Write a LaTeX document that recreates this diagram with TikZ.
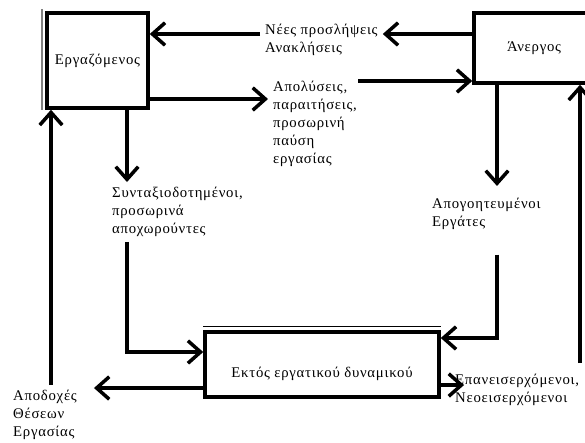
\documentclass[tikz,border=0pt]{standalone}
\usepackage{fontspec}
\setmainfont{Liberation Serif}[LetterSpace=5.0]
\usepackage{tikz}
\usetikzlibrary{arrows.meta}

\begin{document}
\begin{tikzpicture}[x=0.025cm, y=-0.025cm, font=\fontsize{10.5}{12.8}\selectfont,
    state/.style={draw, line width=2.5pt, inner sep=0pt},
    lbl/.style={align=left, anchor=north west, inner sep=3.5pt},
    arr/.style={line width=2.5pt, -{Straight Barb[length=9pt, width=16pt]}}]
  \useasboundingbox (0,0) rectangle (585,442);

  \node[state, minimum width=2.525cm, minimum height=2.375cm]  (E) at ( 97.5,  60.5) {Εργαζόμενος};
  \node[state, minimum width=3cm,     minimum height=1.75cm]   (A) at (534,    48)   {Άνεργος};
  \node[state, minimum width=5.85cm,  minimum height=1.625cm,
        text height=20pt, text depth=2pt]                      (X) at (322,   364.5) {Εκτός εργατικού δυναμικού};

  \node[lbl] (hires)   at (260,  19) {Νέες προσλήψεις\\Ανακλήσεις};
  \node[lbl] (dism)    at (268,  76) {Απολύσεις,\\παραιτήσεις,\\προσωρινή\\παύση\\εργασίας};
  \node[lbl] (retired) at (107, 182) {Συνταξιοδοτημένοι,\\προσωρινά\\αποχωρούντες};
  \node[lbl] (disc)    at (427, 193) {Απογοητευμένοι\\Εργάτες};
  \node[lbl] (accept)  at (  8, 385) {Αποδοχές\\Θέσεων\\Εργασίας};
  \node[lbl] (reent)   at (450, 369) {Επανεισερχόμενοι,\\Νεοεισερχόμενοι};

  \coordinate (xr)    at (127,   0);
  \coordinate (xa)    at ( 51,   0);
  \coordinate (xd)    at (497,   0);
  \coordinate (dismR) at (358,  81);
  \coordinate (up)    at (580, 363);

  \draw[gray, line width=1.5pt] ([shift={(-3,0)}]E.south west) -- ([shift={(-3,-2)}]E.north west);
  \draw[line width=0.6pt] ([shift={(0,-3.5)}]X.north west) -- ([shift={(0,-3.5)}]X.north east);

  \draw[arr] (A.west |- 0,34) -- (hires.east |- 0,34);
  \draw[arr] (hires.west |- 0,34) -- (E.east |- 0,34);

  \draw[arr] (E.east |- 0,99) -- (dism.west |- 0,99);
  \draw[arr] (dismR) -- (A.west |- dismR);

  \draw[arr] (E.south -| xr) -- (retired.north -| xr);
  \draw[arr] (retired.south -| xr) |- (X.west |- 0,352);

  \draw[arr] (accept.north -| xa) -- (E.south -| xa);
  \draw[arr, shorten >=8.5pt] (X.west |- 0,388) -- (accept.east |- 0,388);

  \draw[arr, shorten >=5pt] (A.south -| xd) -- (disc.north -| xd);
  \draw[arr, shorten <=14pt] (disc.south -| xd) |- (X.east |- 0,338);

  \draw[arr, shorten >=-10pt] (X.east |- 0,385) -- (reent.west |- 0,385);
  \draw[arr] (up) -- (A.south -| up);
\end{tikzpicture}
\end{document}
